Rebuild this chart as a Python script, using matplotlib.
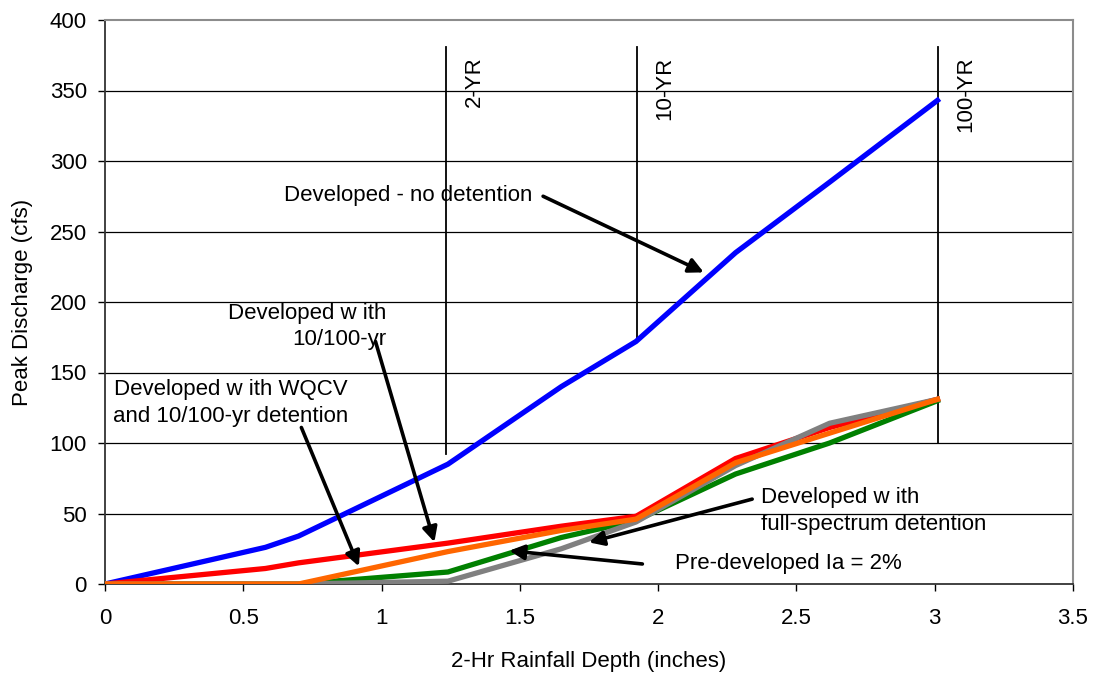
import matplotlib.pyplot as plt
import numpy as np

plt.rcParams['font.family'] = ['Liberation Sans', 'DejaVu Sans']

# 2-hr rainfall depth (inches) at each computed point
depth = [0, 0.58, 0.70, 1.24, 1.65, 1.92, 2.28, 2.62, 3.01]

# peak discharge (cfs)
dev_no_det = [0, 26, 34, 85, 140, 172, 235, 285, 343]
dev_wqcv_10_100 = [0, 11, 15, 29, 41, 48, 89, 111, 131]
dev_10_100 = [0, 0, 0, 23, 38, 46, 86, 107, 131]
dev_full_spectrum = [0, 0, 0, 8.5, 33, 45, 78, 100, 130]
pre_developed = [0, 0, 0, 2, 25, 44, 84, 114, 131]

# return period markers
rp_labels = ['2-YR', '10-YR', '100-YR']
rp_depth = [1.234, 1.923, 3.013]
rp_bottom = [92, 172, 100]
rp_top = 381

xticks = [0, 0.5, 1, 1.5, 2, 2.5, 3, 3.5]
xtick_labels = ['0', '0.5', '1', '1.5', '2', '2.5', '3', '3.5']
yticks = np.arange(0, 401, 50)

FS = 16

fig = plt.figure(figsize=(10.97, 6.77), dpi=100)
ax = fig.add_axes([105 / 1097, 1 - 584 / 677, (1073 - 105) / 1097, (584 - 20) / 677])

# gridlines (horizontal only)
for y in yticks[1:-1]:
    ax.axhline(y, color='black', lw=0.9, zorder=1)

# return period lines and labels
for lab, x, yb in zip(rp_labels, rp_depth, rp_bottom):
    ax.plot([x, x], [yb, rp_top], color='black', lw=1.3, zorder=2)
    ax.text(x + 0.1, 374, lab, rotation=90, ha='center', va='top', fontsize=FS, zorder=5)

ax.plot(depth, dev_no_det, color='#0000FF', lw=3.8, zorder=3)
ax.plot(depth, dev_full_spectrum, color='#008000', lw=3.8, zorder=3)
ax.plot(depth, dev_wqcv_10_100, color='#FF0000', lw=3.8, zorder=3)
ax.plot(depth, pre_developed, color='#808080', lw=3.8, zorder=3)
ax.plot(depth, dev_10_100, color='#FF6600', lw=3.8, zorder=3)

arrow = dict(arrowstyle='-|>', lw=2.6, color='black', mutation_scale=22, shrinkA=0, shrinkB=0)

ax.text(1.545, 275.5, 'Developed - no detention', ha='right', va='center', fontsize=FS)
ax.annotate('', xy=(2.165, 221), xytext=(1.584, 275), arrowprops=arrow, zorder=6)

ax.text(1.018, 182.6, 'Developed w ith\n10/100-yr', ha='right', va='center',
        multialignment='right', fontsize=FS, linespacing=1.35)
ax.annotate('', xy=(1.191, 29.7), xytext=(0.978, 172), arrowprops=arrow, zorder=6)

ax.text(0.455, 128.5, 'Developed w ith WQCV\nand 10/100-yr detention', ha='center', va='center',
        multialignment='center', fontsize=FS, linespacing=1.35)
ax.annotate('', xy=(0.918, 12.5), xytext=(0.71, 111), arrowprops=arrow, zorder=6)

ax.text(2.373, 51.9, 'Developed w ith\nfull-spectrum detention', ha='left', va='center',
        multialignment='left', fontsize=FS, linespacing=1.35)
ax.annotate('', xy=(1.75, 29.5), xytext=(2.34, 60.2), arrowprops=arrow, zorder=6)

ax.text(2.061, 14.2, 'Pre-developed Ia = 2%', ha='left', va='center', fontsize=FS)
ax.annotate('', xy=(1.462, 23.6), xytext=(1.943, 14.2), arrowprops=arrow, zorder=6)

ax.set_xlim(0, 3.5)
ax.set_ylim(0, 400)
ax.set_xticks(xticks)
ax.set_xticklabels(xtick_labels)
ax.set_yticks(yticks)
ax.tick_params(axis='both', direction='out', length=5, width=1, labelsize=FS, colors='black')
ax.tick_params(axis='y', pad=8)
ax.tick_params(axis='x', pad=12)

for side in ['top', 'right']:
    ax.spines[side].set_color('#8c8c8c')
    ax.spines[side].set_linewidth(1.5)
for side in ['left', 'bottom']:
    ax.spines[side].set_color('#333333')
    ax.spines[side].set_linewidth(1.3)

ax.set_xlabel('2-Hr Rainfall Depth (inches)', fontsize=FS, labelpad=16)
ax.set_ylabel('Peak Discharge (cfs)', fontsize=FS, labelpad=12)

fig.savefig('out.png', dpi=100)
